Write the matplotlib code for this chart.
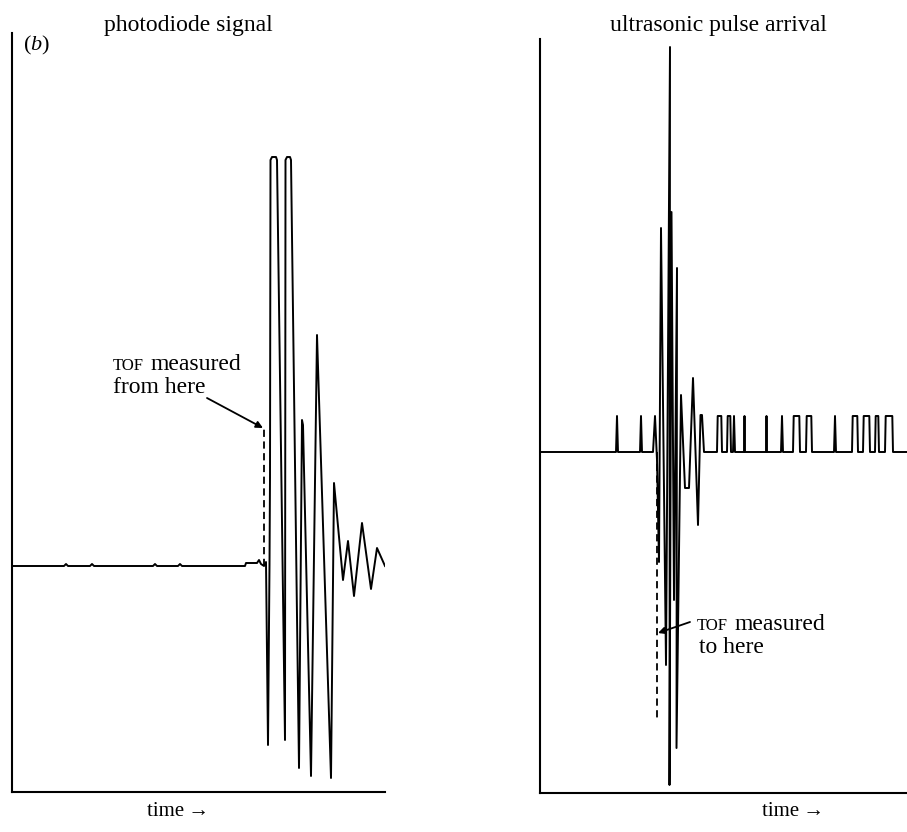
import numpy as np
import matplotlib.pyplot as plt

plt.rcParams['font.family'] = ['Liberation Serif', 'DejaVu Serif']
plt.rcParams['mathtext.fontset'] = 'custom'
plt.rcParams['mathtext.rm'] = 'Liberation Serif'
plt.rcParams['mathtext.it'] = 'Liberation Serif:italic'

# photodiode trace: time (arb.) and amplitude (arb.)
pd_t = [0, 52, 54, 56, 78, 80, 82, 141, 143, 145, 166, 168, 170,
        233, 234, 245, 247, 249, 252, 254, 256, 257.5, 258, 258.5,
        260, 264, 265, 273, 273.5, 275, 278, 279, 287, 290, 291,
        299, 305, 319, 322, 331, 336, 342, 350, 359, 365, 373]
pd_a = [0, 0, 0.2, 0, 0, 0.2, 0, 0, 0.2, 0, 0, 0.2, 0,
        0, 0.3, 0.3, 0.6, 0.2, 0, 0.4, -17.9, 0.1, 8.9, 40.6,
        40.9, 40.9, 40.6, -17.4, 40.6, 40.9, 40.9, 40.6, -20.2, 14.6, 14.1,
        -21.0, 23.1, -21.2, 8.3, -1.4, 2.5, -3.0, 4.3, -2.3, 1.8, 0]
pd_tof = 252
pd_tof_level = 13.8

# ultrasonic burst
us_t = [115, 117, 119, 121, 126, 130, 129.5, 131.5, 134, 137, 136.5,
        141, 145, 149, 153, 158, 160.5, 162, 164]
us_a = [3.6, -0.8, -11.0, 22.4, -21.3, 40.5, -33.3, 24.0, -14.8, 18.4, -29.6,
        5.7, -3.6, -3.6, 7.4, -7.3, 3.7, 3.7, 0]
burst_start = 113
# digital pulses on the ultrasonic channel
pulse_on = [76, 100, 177, 187, 193, 204, 226, 241, 253, 266, 294, 312, 323, 335, 345]
pulse_off = [78, 102, 182, 191, 195, 205, 227, 243, 260, 272, 296, 318, 330, 339, 353]
pulse_height = 3.6
us_end = 367
us_tof = 117
us_tof_level = -26.8


def pulse_points(ons, offs):
    t, a = [], []
    for on, off in zip(ons, offs):
        if off - on <= 2:
            t += [on, (on + off) / 2, off]
            a += [0, pulse_height, 0]
        else:
            t += [on, on + 0.7, off - 0.7, off]
            a += [0, pulse_height, pulse_height, 0]
    return t, a


before = [(a, b) for a, b in zip(pulse_on, pulse_off) if a < burst_start]
after = [(a, b) for a, b in zip(pulse_on, pulse_off) if a > us_t[-1]]
t1, a1 = pulse_points(*zip(*before))
t2, a2 = pulse_points(*zip(*after))
ut = [0] + t1 + [burst_start] + us_t + t2 + [us_end]
ua = [0] + a1 + [0] + us_a + a2 + [0]

W, H = 907, 832
fig = plt.figure(figsize=(W / 100, H / 100), dpi=100)

ax1 = fig.add_axes([12 / W, 1 - 792 / H, 373 / W, 759 / H])
ax2 = fig.add_axes([540 / W, 1 - 793 / H, 367 / W, 754 / H])

ax1.plot(pd_t, pd_a, color='black', lw=1.4)
ax1.plot([pd_tof, pd_tof], [0, pd_tof_level], color='black', lw=1.3, ls=(0, (4, 2.5)))
ax1.set_xlim(0, 373)
ax1.set_ylim(-22.6, 53.3)

ax2.plot(ut, ua, color='black', lw=1.4, clip_on=False)
ax2.plot([us_tof, us_tof], [0, us_tof_level], color='black', lw=1.3, ls=(0, (4, 2.5)))
ax2.set_xlim(0, us_end)
ax2.set_ylim(-34.1, 41.3)

for ax in (ax1, ax2):
    for s in ('top', 'right'):
        ax.spines[s].set_visible(False)
    for s in ('left', 'bottom'):
        ax.spines[s].set_linewidth(1.5)
    ax.set_xticks([])
    ax.set_yticks([])

arrow = dict(arrowstyle='-|>', color='black', lw=1.3, mutation_scale=10,
             shrinkA=0, shrinkB=0)
ax1.annotate('', xy=(251, 13.8), xytext=(195, 16.8), arrowprops=arrow)
ax2.annotate('', xy=(118, -18.1), xytext=(150, -17.0), arrowprops=arrow)

# TOF in small capitals
ax1.text(101, 19.6, 'TOF', fontsize=12, va='baseline')
ax1.annotate('measured', xy=(101, 19.6), xytext=(27, 0), textcoords='offset points',
             fontsize=17, va='baseline')
ax1.text(101, 17.3, 'from here', fontsize=17, va='baseline')
ax2.text(157, -17.8, 'TOF', fontsize=12, va='baseline')
ax2.annotate('measured', xy=(157, -17.8), xytext=(27, 0), textcoords='offset points',
             fontsize=17, va='baseline')
ax2.text(159, -20.1, 'to here', fontsize=17, va='baseline')

fig.text(188 / W, 1 - 25 / H, 'photodiode signal', fontsize=17, ha='center', va='center')
fig.text(718 / W, 1 - 25 / H, 'ultrasonic pulse arrival', fontsize=17, ha='center', va='center')
fig.text(23 / W, 1 - 45 / H, r'$(b)$', fontsize=16, ha='left', va='center')
for xc in (178, 793):
    fig.text(xc / W, 1 - 812 / H, 'time\u2009\u2192', fontsize=15, ha='center', va='center')

fig.savefig('out.png', dpi=100)
